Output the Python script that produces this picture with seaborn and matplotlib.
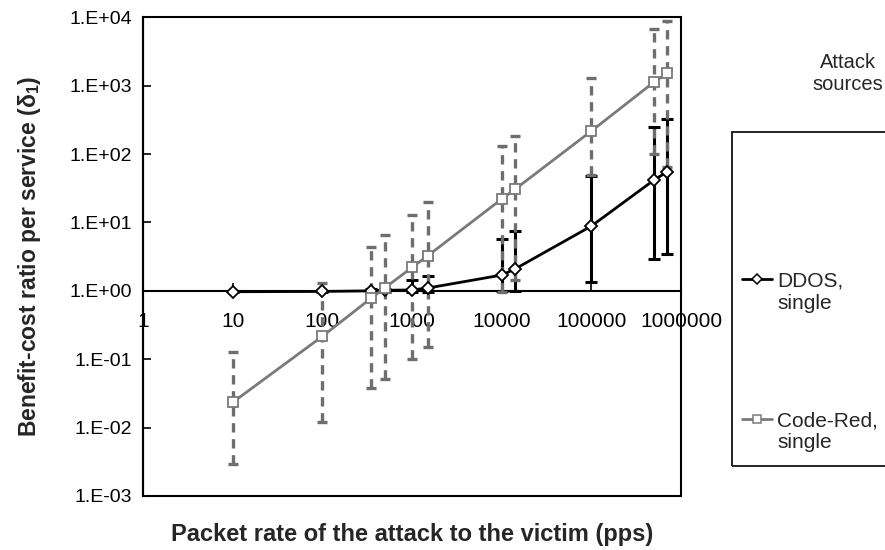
import numpy as np
import pandas as pd
import matplotlib
matplotlib.use("Agg")
import matplotlib.pyplot as plt
import seaborn as sns
from matplotlib.ticker import FixedLocator, FuncFormatter, NullFormatter
from matplotlib.lines import Line2D
from matplotlib.patches import Rectangle
from matplotlib.legend_handler import HandlerLine2D

# ---------------- data ----------------
rates = [10, 100, 350, 500, 1000, 1500, 10000, 14000, 100000, 500000, 700000]

ddos = [0.97, 0.98, 1.0, 1.02, 1.03, 1.1, 1.7, 2.08, 8.85, 41.7, 55]
ddos_low = [0.95, 0.96, 0.95, 0.97, 0.95, 0.95, 1.0, 1.0, 1.36, 2.9, 3.5]
ddos_high = [1.0, 1.0, 1.08, 1.08, 1.44, 1.64, 5.66, 7.5, 48, 251, 328]

codered = [0.0234, 0.216, 0.78, 1.11, 2.2, 3.26, 22, 30.4, 217, 1130, 1510]
codered_low = [0.0029, 0.0122, 0.0375, 0.052, 0.102, 0.152, 0.97, 1.44, 50, 100, 65]
codered_high = [0.129, 1.3, 4.4, 6.5, 12.8, 19.6, 131, 183, 1280, 6700, 8800]

x_ticks = [1, 10, 100, 1000, 10000, 100000, 1000000]
y_ticks = [1e-3, 1e-2, 1e-1, 1e0, 1e1, 1e2, 1e3, 1e4]

series_names = ["DDOS,\nsingle", "Code-Red,\nsingle"]
legend_title = "Attack\nsources"
x_label = "Packet rate of the attack to the victim (pps)"
y_label = r"Benefit-cost ratio per service (δ$_\mathbf{1}$)"

# ---------------- style ----------------
sns.set_theme(style="white")
plt.rcParams["font.family"] = ["Liberation Sans", "DejaVu Sans"]
plt.rcParams["mathtext.fontset"] = "custom"
plt.rcParams["mathtext.rm"] = "Liberation Sans"
plt.rcParams["mathtext.bf"] = "Liberation Sans:bold"

W, H = 885, 550
fig = plt.figure(figsize=(W / 100, H / 100), dpi=100)
L, R, T, B = 143, 681, 17.3, 496
ax = fig.add_axes([L / W, 1 - B / H, (R - L) / W, (B - T) / H])
ax.set_facecolor("white")

df = pd.DataFrame({
    "rate": rates * 2,
    "value": ddos + codered,
    "series": [series_names[0]] * len(rates) + [series_names[1]] * len(rates),
})

ddos_col = "black"
cr_col = "#7a7a7a"

# error bars
yerr_d = [np.array(ddos) - np.array(ddos_low), np.array(ddos_high) - np.array(ddos)]
ax.errorbar(rates, ddos, yerr=yerr_d, fmt="none", ecolor=ddos_col,
            elinewidth=2.2, capsize=4, capthick=2.2, zorder=2)

yerr_c = [np.array(codered) - np.array(codered_low), np.array(codered_high) - np.array(codered)]
eb2 = ax.errorbar(rates, codered, yerr=yerr_c, fmt="none", ecolor="#6e6e6e",
                  elinewidth=2.4, capsize=3.5, capthick=2.4, zorder=3)
for lc in eb2[2]:
    lc.set_linestyle((0, (2.8, 2.0)))

sns.lineplot(data=df, x="rate", y="value", hue="series", style="series",
             palette={series_names[0]: ddos_col, series_names[1]: cr_col},
             markers={series_names[0]: "D", series_names[1]: "s"},
             dashes=False, linewidth=2.0, markersize=7,
             legend=False, ax=ax, zorder=4)
for ln in ax.lines:
    if ln.get_marker() in ("D", "s"):
        ln.set_markerfacecolor("white")
        ln.set_markeredgecolor(ln.get_color())
        ln.set_markeredgewidth(1.3)
        ln.set_markersize(6.5 if ln.get_marker() == "D" else 7.5)

ax.set_xscale("log")
ax.set_yscale("log")
ax.set_xlim(x_ticks[0], x_ticks[-1])
ax.set_ylim(y_ticks[0], y_ticks[-1])

# axes: x-axis crossing at y = 1
ax.spines["bottom"].set_position(("data", 1))
for s in ["top", "right"]:
    ax.spines[s].set_visible(False)
for s in ["left", "bottom"]:
    ax.spines[s].set_color("black")
    ax.spines[s].set_linewidth(1.5)
ax.add_patch(Rectangle((0, 0), 1, 1, transform=ax.transAxes, fill=False,
                       edgecolor="black", linewidth=1.5, clip_on=False, zorder=6))

x_minor = [m * t for t in x_ticks[:-1] for m in range(2, 10)]
y_minor = [m * t for t in y_ticks[:-1] for m in range(2, 10)]
ax.xaxis.set_major_locator(FixedLocator(x_ticks))
ax.xaxis.set_minor_locator(FixedLocator(x_minor))
ax.xaxis.set_major_formatter(FuncFormatter(lambda v, p: f"{int(round(v))}"))
ax.xaxis.set_minor_formatter(NullFormatter())
ax.yaxis.set_major_locator(FixedLocator(y_ticks))
ax.yaxis.set_minor_locator(FixedLocator(y_minor))
ax.yaxis.set_major_formatter(FuncFormatter(lambda v, p: f"1.E{int(round(np.log10(v))):+03d}"))
ax.yaxis.set_minor_formatter(NullFormatter())

ax.tick_params(axis="x", which="major", direction="in", length=6, width=1.2,
               labelsize=15, pad=15.5, colors="black")
ax.tick_params(axis="x", which="minor", direction="in", length=5, width=1.0, colors="black")
ax.tick_params(axis="y", which="major", direction="in", length=6, width=1.2,
               labelsize=14, pad=8, colors="black")
ax.tick_params(axis="y", which="minor", direction="in", length=5, width=1.0, colors="black")
ax.tick_params(left=True, bottom=True)

ax.set_xlabel(x_label, fontsize=17, fontweight="bold")
ax.xaxis.label.set_va("center")
ax.xaxis.set_label_coords(0.5, (B - 534) / (B - T))
ax.set_ylabel(y_label, fontsize=16.5, fontweight="bold")
ax.yaxis.label.set_va("center")
ax.yaxis.set_label_coords((30 - L) / (R - L), 0.5)
ax.grid(False)


# legend (handle aligned with first text line)
class UpHandler(HandlerLine2D):
    def create_artists(self, legend, orig_handle, xdescent, ydescent, width, height, fontsize, trans):
        arts = super().create_artists(legend, orig_handle, xdescent, ydescent, width, height, fontsize, trans)
        for a in arts:
            a.set_ydata(np.asarray(a.get_ydata(), dtype=float) + 0.62 * fontsize)
        return arts


handles = [
    Line2D([], [], color=ddos_col, lw=2.0, marker="D", markersize=5,
           markerfacecolor="white", markeredgewidth=1.1),
    Line2D([], [], color=cr_col, lw=2.0, marker="s", markersize=6,
           markerfacecolor="white", markeredgewidth=1.1),
]
leg = fig.legend(handles, series_names, loc="center left",
                 bbox_to_anchor=(723 / W, 1 - 362 / H), frameon=False,
                 fontsize=15, handlelength=1.45, handletextpad=0.25,
                 labelspacing=4.75, numpoints=1,
                 handler_map={h: UpHandler() for h in handles})
for t in leg.get_texts():
    t.set_linespacing(1.2)
fig.patches.append(Rectangle((732 / W, 1 - 466 / H), 200 / W, (466 - 132) / H,
                             transform=fig.transFigure, fill=False,
                             edgecolor="black", linewidth=1.2, figure=fig))
fig.text(848 / W, 1 - 73 / H, legend_title, ha="center", va="center",
         fontsize=14.5, linespacing=1.2)

fig.savefig("out.png", dpi=100)
